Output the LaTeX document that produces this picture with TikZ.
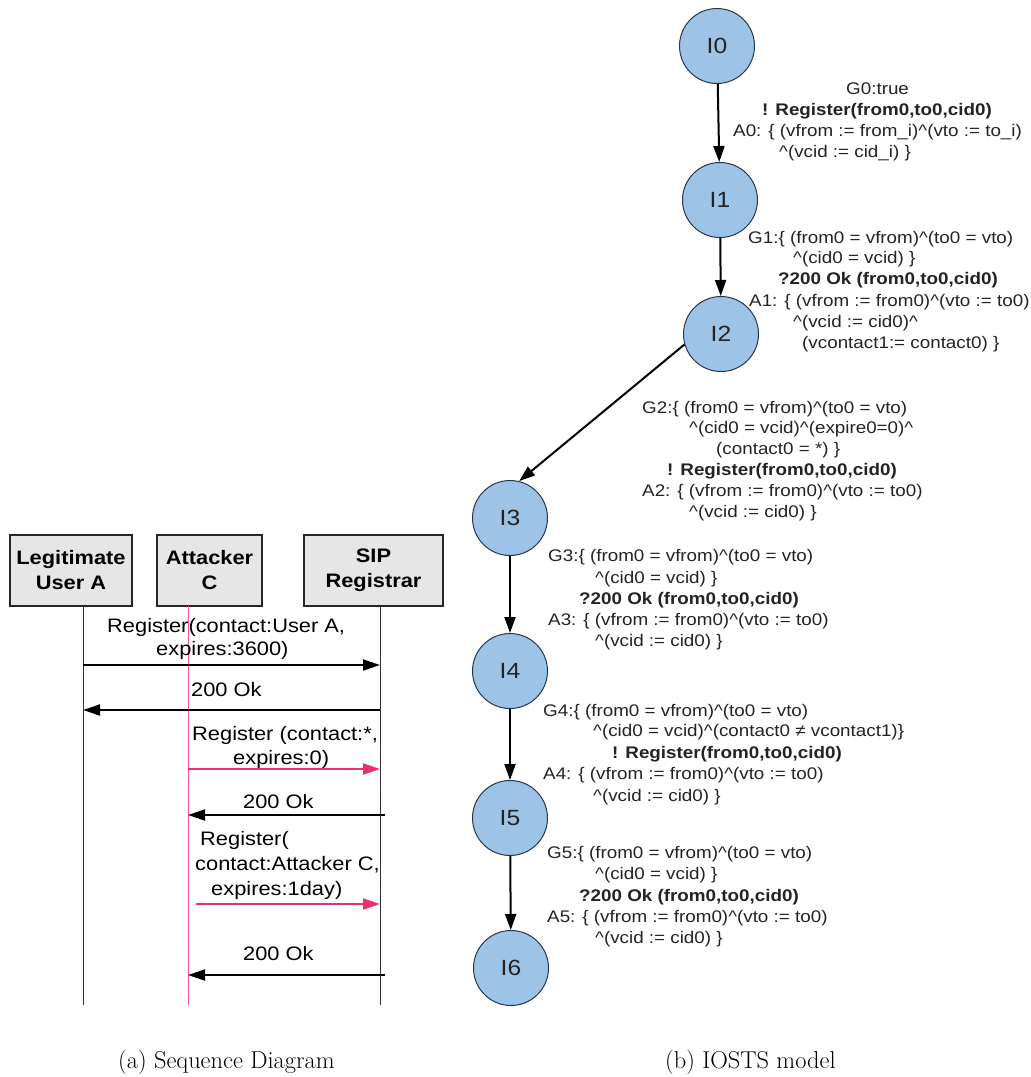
\documentclass[tikz,border=0pt]{standalone}
\usepackage{fontspec}
\newfontfamily\arialx[FakeStretch=1.12]{Liberation Sans}
\usetikzlibrary{arrows.meta}
\definecolor{pinkc}{RGB}{237,48,103}
\definecolor{pinkl}{RGB}{240,90,130}
\definecolor{stfill}{RGB}{157,195,230}
\definecolor{stdraw}{RGB}{40,55,75}
\definecolor{boxfill}{RGB}{230,230,230}
\definecolor{txtc}{RGB}{35,35,35}
\newcommand\hatc{\textasciicircum}
\begin{document}
\begin{tikzpicture}[x=1pt,y=-1pt,
  seqtxt/.style={font=\arialx\fontsize{19.5}{23}\selectfont, anchor=base west, inner sep=0, text=black},
  hdr/.style={draw=black!85, line width=1.2pt, fill=boxfill, align=center, inner sep=0,
    minimum height=71pt, font=\arialx\bfseries\fontsize{19.5}{25}\selectfont},
  life/.style={draw=black!80, line width=1pt},
  msg/.style={line width=2pt, -{Triangle[length=17pt,width=11pt]}},
  state/.style={circle, draw=stdraw, line width=1pt, fill=stfill, minimum size=75pt, inner sep=0,
    font=\arialx\fontsize{22}{26}\selectfont, text=txtc},
  edge/.style={line width=2pt, -{Triangle[length=16pt,width=11pt]}},
  iotxt/.style={font=\arialx\fontsize{16.8}{20}\selectfont, anchor=base west, inner sep=0, text=txtc},
  iobold/.style={iotxt, font=\arialx\bfseries\fontsize{16.8}{20}\selectfont},
  capt/.style={font=\fontsize{24.4}{28}\selectfont, anchor=base west, inner sep=0}]
\useasboundingbox (0,0) rectangle (1031,1077);

% ---------- (a) sequence diagram ----------
\node[hdr, minimum width=122pt] (ua) at (71,570.5) {Legitimate\\User A};
\node[hdr, minimum width=105pt] (ac) at (209.5,570.5) {Attacker\\C};
\node[hdr, minimum width=139pt] (sr) at (373.5,570.5) {SIP\\Registrar};

\coordinate (la0) at (83,606);   \coordinate (la1) at (83,1005);
\coordinate (lc0) at (188,606);  \coordinate (lc1) at (188,1005);
\coordinate (lr0) at (380,606);  \coordinate (lr1) at (380,1005);
\draw[life] (la0) -- (la1);
\draw[life] (lr0) -- (lr1);
\draw[draw=pinkl, line width=1pt] (lc0) -- (lc1);

\coordinate (m1a) at (83,665);  \coordinate (m1b) at (380,665);
\coordinate (m2a) at (380,710); \coordinate (m2b) at (83,710);
\coordinate (m3a) at (188,769); \coordinate (m3b) at (380,769);
\coordinate (m4a) at (385,815); \coordinate (m4b) at (188,815);
\coordinate (m5a) at (196,904); \coordinate (m5b) at (380,904);
\coordinate (m6a) at (385,975); \coordinate (m6b) at (188,975);
\draw[msg] (m1a) -- (m1b);
\draw[msg] (m2a) -- (m2b);
\draw[msg, draw=pinkc, fill=pinkc] (m3a) -- (m3b);
\draw[msg] (m4a) -- (m4b);
\draw[msg, draw=pinkc, fill=pinkc] (m5a) -- (m5b);
\draw[msg] (m6a) -- (m6b);

\node[seqtxt] (t1a) at (107,632) {Register(contact:User A,};
\node[seqtxt] (t1b) at (156,655) {expires:3600)};
\node[seqtxt] (t2)  at (191,696) {200 Ok};
\node[seqtxt] (t3a) at (192,740) {Register (contact:*,};
\node[seqtxt] (t3b) at (233,764) {expires:0)};
\node[seqtxt] (t4)  at (243,808) {200 Ok};
\node[seqtxt] (t5a) at (200,845) {Register(};
\node[seqtxt] (t5b) at (195,870) {contact:Attacker C,};
\node[seqtxt] (t5c) at (211,895) {expires:1day)};
\node[seqtxt] (t6)  at (243,960) {200 Ok};

% ---------- (b) IOSTS model ----------
\node[state] (i0) at (717,46)  {I0};
\node[state] (i1) at (720,200) {I1};
\node[state] (i2) at (721,334) {I2};
\node[state] (i3) at (510,518) {I3};
\node[state] (i4) at (510,671) {I4};
\node[state] (i5) at (510,818) {I5};
\node[state] (i6) at (511,968) {I6};
\draw[edge] (i0) -- (i1);
\draw[edge] (i1) -- (i2);
\draw[edge] (i2.196) -- (i3.76);
\draw[edge] (i3) -- (i4);
\draw[edge] (i4) -- (i5);
\draw[edge] (i5) -- (i6);

\node[iotxt]  (g0a) at (846,94)  {G0:true};
\node[iobold] (g0b) at (762,115) {! Register(from0,to0,cid0)};
\node[iotxt]  (g0c) at (733,136) {A0: \{ (vfrom := from\_i)\hatc(vto := to\_i)};
\node[iotxt]  (g0d) at (779,157) {\hatc(vcid := cid\_i) \}};

\node[iotxt]  (g1a) at (748,243) {G1:\{ (from0 = vfrom)\hatc(to0 = vto)};
\node[iotxt]  (g1b) at (793,263) {\hatc(cid0 = vcid) \}};
\node[iobold] (g1c) at (778,284) {?200 Ok (from0,to0,cid0)};
\node[iotxt]  (g1d) at (749,306) {A1: \{ (vfrom := from0)\hatc(vto := to0)};
\node[iotxt]  (g1e) at (793,327) {\hatc(vcid := cid0)\hatc};
\node[iotxt]  (g1f) at (802,348) {(vcontact1:= contact0) \}};

\node[iotxt]  (g2a) at (642,413) {G2:\{ (from0 = vfrom)\hatc(to0 = vto)};
\node[iotxt]  (g2b) at (689,433) {\hatc(cid0 = vcid)\hatc(expire0=0)\hatc};
\node[iotxt]  (g2c) at (716,454) {(contact0 = *) \}};
\node[iobold] (g2d) at (667,475) {! Register(from0,to0,cid0)};
\node[iotxt]  (g2e) at (642,496) {A2: \{ (vfrom := from0)\hatc(vto := to0)};
\node[iotxt]  (g2f) at (689,517) {\hatc(vcid := cid0) \}};

\node[iotxt]  (g3a) at (548,561) {G3:\{ (from0 = vfrom)\hatc(to0 = vto)};
\node[iotxt]  (g3b) at (595,583) {\hatc(cid0 = vcid) \}};
\node[iobold] (g3c) at (579,604) {?200 Ok (from0,to0,cid0)};
\node[iotxt]  (g3d) at (548,625) {A3: \{ (vfrom := from0)\hatc(vto := to0)};
\node[iotxt]  (g3e) at (595,646) {\hatc(vcid := cid0) \}};

\node[iotxt]  (g4a) at (543,716) {G4:\{ (from0 = vfrom)\hatc(to0 = vto)};
\node[iotxt]  (g4b) at (593,736) {\hatc(cid0 = vcid)\hatc(contact0 ≠ vcontact1)\}};
\node[iobold] (g4c) at (612,758) {! Register(from0,to0,cid0)};
\node[iotxt]  (g4d) at (543,779) {A4: \{ (vfrom := from0)\hatc(vto := to0)};
\node[iotxt]  (g4e) at (593,801) {\hatc(vcid := cid0) \}};

\node[iotxt]  (g5a) at (547,858) {G5:\{ (from0 = vfrom)\hatc(to0 = vto)};
\node[iotxt]  (g5b) at (595,879) {\hatc(cid0 = vcid) \}};
\node[iobold] (g5c) at (579,901) {?200 Ok (from0,to0,cid0)};
\node[iotxt]  (g5d) at (547,922) {A5: \{ (vfrom := from0)\hatc(vto := to0)};
\node[iotxt]  (g5e) at (595,943) {\hatc(vcid := cid0) \}};

% ---------- captions ----------
\node[capt] (ca) at (118,1068) {(a) Sequence Diagram};
\node[capt] (cb) at (665,1068) {(b) IOSTS model};
\end{tikzpicture}
\end{document}
